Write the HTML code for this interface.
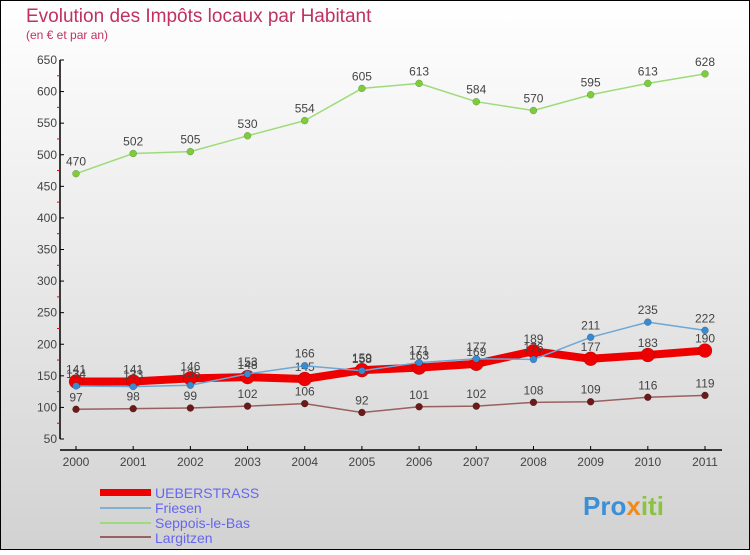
<!DOCTYPE html>
<html><head><meta charset="utf-8">
<style>
html,body{margin:0;padding:0;}
body{width:750px;height:550px;overflow:hidden;font-family:"Liberation Sans",sans-serif;}
svg text{font-family:"Liberation Sans",sans-serif;}
</style></head>
<body>
<svg id="chart" width="750" height="550" xmlns="http://www.w3.org/2000/svg">
<defs>
<linearGradient id="bg" x1="0" y1="0" x2="0" y2="1">
<stop offset="0" stop-color="#ffffff"/><stop offset="1" stop-color="#d2d2d2"/>
</linearGradient>
</defs>
<rect x="0.5" y="0.5" width="749" height="549" fill="url(#bg)" stroke="#000"/>
<text x="26" y="22" font-size="19" fill="#c0315f">Evolution des Impôts locaux par Habitant</text>
<text x="26" y="39" font-size="12" fill="#c0315f">(en € et par an)</text>
<g id="axes"></g>
<g id="series"></g>
<g>
<rect x="100" y="489" width="51" height="7" fill="#e00"/>
<text x="155" y="498" font-size="14" fill="#6666ee">UEBERSTRASS</text>
<rect x="100" y="507" width="51" height="2" fill="#7fb0d0"/>
<text x="155" y="513" font-size="14" fill="#6666ee">Friesen</text>
<rect x="100" y="522" width="51" height="2" fill="#9edb7a"/>
<text x="155" y="528" font-size="14" fill="#6666ee">Seppois-le-Bas</text>
<rect x="100" y="536" width="51" height="2" fill="#9a6060"/>
<text x="155" y="543" font-size="14" fill="#6666ee">Largitzen</text>
</g>
<text x="583" y="515" font-size="26" font-weight="bold" fill="#3b8fd6">Pro<tspan fill="#f08a1c">x</tspan><tspan fill="#8ac43f">iti</tspan></text>
</svg>
<script>
const years = [2000,2001,2002,2003,2004,2005,2006,2007,2008,2009,2010,2011];
const yTicks = [50,100,150,200,250,300,350,400,450,500,550,600,650];
const ueberstrass = [141,141,146,148,145,159,163,169,189,177,183,190];
const friesen = [134,133,135,153,166,158,171,177,176,211,235,222];
const seppois = [470,502,505,530,554,605,613,584,570,595,613,628];
const largitzen = [97,98,99,102,106,92,101,102,108,109,116,119];

const NS="http://www.w3.org/2000/svg";
const x0=76, dx=(705-76)/11;
function xs(i){return x0+i*dx;}
function ys(v){return 439-(v-50)*(379/600);}
function mk(tag,attrs,parent){const e=document.createElementNS(NS,tag);for(const k in attrs)e.setAttribute(k,attrs[k]);parent.appendChild(e);return e;}
const axes=document.getElementById('axes');
const ser=document.getElementById('series');

const ya=mk('line',{x1:60,y1:ys(650),x2:60,y2:ys(50),stroke:'#000','stroke-width':1.5},axes);


yTicks.forEach(v=>{
  const y=ys(v);
  const t=mk('line',{x1:60,y1:y,x2:64,y2:y,stroke:'#000'},axes);
  
  
  const l=mk('text',{x:57,y:y+4,'font-size':12,fill:'#444','text-anchor':'end'},axes);
  l.textContent=v;
  
  
  if(v<650){
    const m=mk('line',{x1:57,y1:ys(v+25),x2:60,y2:ys(v+25),stroke:'#e00'},axes);
    
    
  }
});
const xa=mk('line',{x1:60,y1:450,x2:722,y2:450,stroke:'#000','stroke-width':1.5},axes);


years.forEach((yr,i)=>{
  const t=mk('line',{x1:xs(i),y1:446,x2:xs(i),y2:450,stroke:'#000'},axes);
  
  
  const l=mk('text',{x:xs(i),y:466,'font-size':12,fill:'#444','text-anchor':'middle'},axes);
  l.textContent=yr;
  
  
});

function drawSeries(name,vals,color,w,r,pcolor){
  const g=mk('g',{},ser);
  
  
  const pl=mk('polyline',{points:vals.map((v,i)=>xs(i)+','+ys(v)).join(' '),fill:'none',stroke:color,'stroke-width':w,'stroke-linejoin':'round'},g);
  
  
  vals.forEach((v,i)=>{
    const c=mk('circle',{cx:xs(i),cy:ys(v),r:r,fill:pcolor,stroke:'rgba(0,0,0,0.3)','stroke-width':0.5},g);
    
    
    const t=mk('text',{x:xs(i),y:ys(v)-8,'font-size':12,fill:'#444','text-anchor':'middle'},g);
    t.textContent=v;
    
    
  });
}
drawSeries('seppois',seppois,'#9edb7a',1.5,3.5,'#7ccc3c');
drawSeries('largitzen',largitzen,'#9a6060',1.5,3.5,'#6b1a1a');
drawSeries('ueberstrass',ueberstrass,'#ee0000',8,7,'#ee0000');
drawSeries('friesen',friesen,'#6aa8d8',1.5,3.5,'#3a8ad0');
</script>
</body></html>
